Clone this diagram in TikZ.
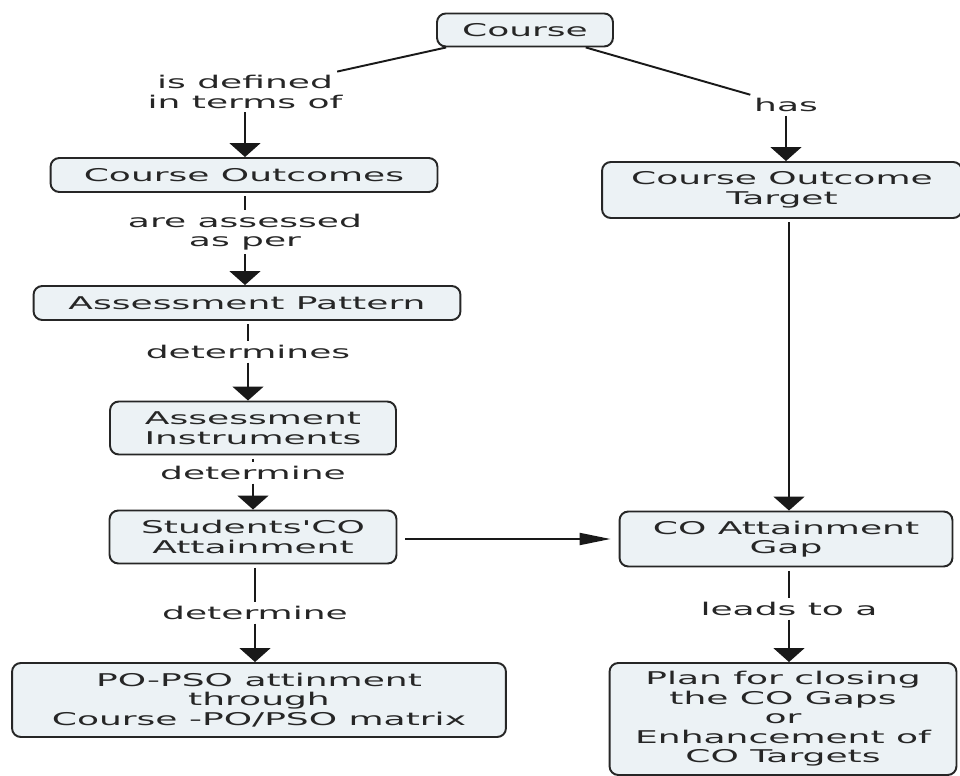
\documentclass[tikz,border=0pt]{standalone}
\usepackage{fontspec}
\usepackage{tikz}
\usetikzlibrary{positioning,arrows.meta}
\newfontfamily\mapfont{DejaVu Sans}[FakeStretch=2.05,Ligatures=TeXOff]
\definecolor{BoxFill}{RGB}{236,242,245}
\definecolor{InkGray}{RGB}{38,38,38}
\tikzset{
  concept/.style={draw=InkGray,fill=BoxFill,rounded corners=5pt,line width=1.1pt,
    align=center,inner sep=2pt,text=InkGray,font=\mapfont\fontsize{10}{11.1}\selectfont},
  link/.style={fill=white,align=center,inner sep=2pt,text=InkGray,
    font=\mapfont\fontsize{10}{11.1}\selectfont},
  conn/.style={draw=black!90,line width=1.1pt},
  down/.style={conn,-{Triangle[width=0.62cm,length=0.28cm]}},
  across/.style={conn,-{Triangle[width=0.24cm,length=0.62cm]}},
}

\begin{document}
\begin{tikzpicture}[x=0.02cm,y=-0.02cm]
\useasboundingbox (0,0) rectangle (960,776);
% concepts
\node[concept,minimum width=3.52cm,minimum height=0.66cm] (course) at (525,30) {Course};
\node[concept,minimum width=7.74cm,minimum height=0.68cm] (outcomes) at (244,175) {Course Outcomes};
\node[concept,minimum width=8.54cm,minimum height=0.68cm] (pattern) at (247,303) {Assessment Pattern};
\node[concept,minimum width=5.72cm,minimum height=1.06cm] (instruments) at (253,428) {Assessment\\Instruments};
\node[concept,minimum width=5.74cm,minimum height=1.06cm] (students) at (253,537) {Students'CO\\Attainment};
\node[concept,minimum width=9.88cm,minimum height=1.48cm] (popso) at (259,700) {PO-PSO attinment\\through\\Course -PO/PSO matrix};
\node[concept,minimum width=7.2cm,minimum height=1.12cm] (target) at (782,190) {Course Outcome\\Target};
\node[concept,minimum width=6.66cm,minimum height=1.1cm] (gap) at (786,539) {CO Attainment\\Gap};
\node[concept,minimum width=6.94cm,minimum height=2.24cm] (plan) at (783,719) {Plan for closing\\the CO Gaps\\or\\Enhancement of\\CO Targets};
% linking phrases
\node[link] (defined) at (245,92) {is defined\\in terms of};
\node[link] (has) at (786,105) {has};
\node[link] (assessed) at (245,232) {are assessed\\as per};
\node[link] (determines) at (248,352) {determines};
\node[link] (determine) at (253,473) {determine};
\node[link] (determineb) at (255,613) {determine};
\node[link] (leads) at (789,609) {leads to a};
% connectors
\draw[conn] (course) -- (defined);
\draw[down] (defined) -- (defined |- outcomes.north);
\draw[conn] (course) -- (has);
\draw[down] (has) -- (has |- target.north);
\draw[conn,shorten <=2pt] (outcomes.south -| assessed) -- (assessed);
\draw[down] (assessed) -- (assessed |- pattern.north);
\draw[conn,shorten <=2pt] (pattern.south -| determines) -- (determines);
\draw[down] (determines) -- (determines |- instruments.north);
\draw[conn,shorten <=2pt] (instruments.south -| determine) -- (determine);
\draw[down] (determine) -- (determine |- students.north);
\draw[conn,shorten <=2pt] (students.south -| determineb) -- (determineb);
\draw[down] (determineb) -- (determineb |- popso.north);
\draw[across,shorten <=0.16cm,shorten >=0.16cm] (students.east |- gap) -- (gap.west);
\draw[down,shorten <=2pt] (target.south -| leads) -- (leads |- gap.north);
\draw[conn,shorten <=2pt] (gap.south -| leads) -- (leads);
\draw[down] (leads) -- (leads |- plan.north);
\end{tikzpicture}
\end{document}
